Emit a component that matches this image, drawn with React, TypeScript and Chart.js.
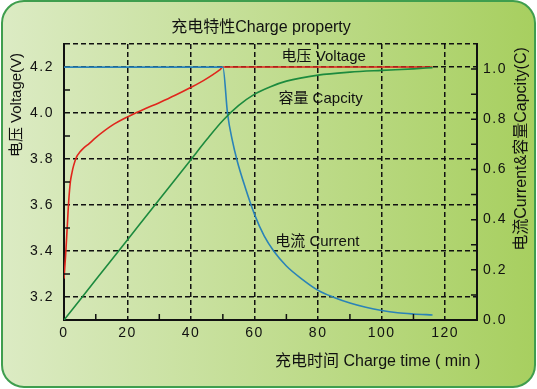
import React, { useEffect, useRef } from "react";
import { Chart, registerables } from "chart.js";

Chart.register(...registerables);

// ---- data ----
const voltageTime = [0, 0.5, 1, 1.5, 2, 2.5, 3, 4, 5, 6, 8, 10, 15, 20, 25, 30, 35, 40, 44, 47, 49, 50, 116];
const voltageValues = [3.28, 3.38, 3.5, 3.62, 3.7, 3.74, 3.77, 3.81, 3.83, 3.845, 3.868, 3.893, 3.945, 3.983, 4.015, 4.045, 4.077, 4.112, 4.142, 4.168, 4.187, 4.2, 4.2];

const currentTime = [0, 50, 51.5, 53, 54.5, 57, 60, 63, 66, 70, 75, 80, 85, 90, 95, 100, 105, 110, 116];
const currentValues = [1.008, 1.008, 0.82, 0.715, 0.635, 0.53, 0.42, 0.335, 0.275, 0.215, 0.162, 0.118, 0.09, 0.068, 0.051, 0.038, 0.029, 0.024, 0.02];

const capacityTime = [0, 10, 20, 30, 40, 45, 50, 55, 60, 65, 70, 80, 90, 100, 110, 116];
const capacityValues = [0, 0.16, 0.32, 0.48, 0.64, 0.72, 0.795, 0.855, 0.9, 0.93, 0.952, 0.976, 0.988, 0.995, 1.001, 1.006];

const xTickLabels = ["0", "20", "40", "60", "80", "100", "120"];
const leftTickLabels = ["3.2", "3.4", "3.6", "3.8", "4.0", "4.2"];
const rightTickLabels = ["0.0", "0.2", "0.4", "0.6", "0.8", "1.0"];

const chartTitle = "充电特性Charge property";
const xTitle = "充电时间 Charge time ( min )";
const yTitle = "电压 Voltage(V)";
const y1Title = "电流Current&容量Capcity(C)";

// annotation labels: text, x (min), y (V on left axis)
const annotationTexts = ["电压 Voltage", "容量 Capcity", "电流 Current"];
const annotationX = [68.5, 67.5, 66.5];
const annotationY = [4.243, 4.061, 3.439];

const FONT = "'Liberation Sans', 'Noto Sans CJK SC', Arial, sans-serif";

const toPoints = (xs: number[], ys: number[]) => xs.map((x, i) => ({ x, y: ys[i] }));

const fmt1 = (v: number) => (Math.round(v * 10) / 10).toFixed(1);

const backgroundPlugin = {
  id: "bgPanel",
  beforeDraw(chart: any) {
    const { ctx, width, height } = chart;
    ctx.save();
    ctx.fillStyle = "#ffffff";
    ctx.fillRect(0, 0, width, height);
    const g = ctx.createLinearGradient(0, 0, width, 0);
    g.addColorStop(0, "#dcebc4");
    g.addColorStop(1, "#a7cf5f");
    const x = 2, y = 1, w = width - 4, h = height - 3, r = 22;
    ctx.beginPath();
    ctx.moveTo(x + r, y);
    ctx.lineTo(x + w - r, y);
    ctx.arcTo(x + w, y, x + w, y + r, r);
    ctx.lineTo(x + w, y + h - r);
    ctx.arcTo(x + w, y + h, x + w - r, y + h, r);
    ctx.lineTo(x + r, y + h);
    ctx.arcTo(x, y + h, x, y + h - r, r);
    ctx.lineTo(x, y + r);
    ctx.arcTo(x, y, x + r, y, r);
    ctx.closePath();
    ctx.fillStyle = g;
    ctx.fill();
    ctx.lineWidth = 2;
    ctx.strokeStyle = "#3f9e4e";
    ctx.stroke();
    ctx.restore();
    (ctx as any).letterSpacing = "1.5px";
  },
};

const decorPlugin = {
  id: "decor",
  afterDraw(chart: any) {
    const { ctx, chartArea } = chart;
    const xs = chart.scales.x;
    const ys = chart.scales.y;
    const y1s = chart.scales.y1;
    (ctx as any).letterSpacing = "0px";
    ctx.save();
    // inward tick marks
    ctx.strokeStyle = "#111";
    ctx.lineWidth = 1.5;
    ctx.beginPath();
    for (let n = 33; n <= 41; n += 2) {
      const py = ys.getPixelForValue(n / 10);
      ctx.moveTo(chartArea.left, py);
      ctx.lineTo(chartArea.left + 6, py);
    }
    for (let v = 10; v <= 110; v += 20) {
      const px = xs.getPixelForValue(v);
      ctx.moveTo(px, chartArea.bottom);
      ctx.lineTo(px, chartArea.bottom - 6);
    }
    for (let n = 1; n <= 10; n++) {
      const py = y1s.getPixelForValue(n / 10);
      ctx.moveTo(chartArea.right, py);
      ctx.lineTo(chartArea.right - 6, py);
    }
    ctx.stroke();

    // annotations
    ctx.fillStyle = "#111";
    ctx.font = `15px ${FONT}`;
    ctx.textAlign = "left";
    ctx.textBaseline = "middle";
    annotationTexts.forEach((t, i) => {
      ctx.fillText(t, xs.getPixelForValue(annotationX[i]), ys.getPixelForValue(annotationY[i]));
    });

    // titles
    ctx.font = `16px ${FONT}`;
    ctx.textAlign = "center";
    ctx.fillText(chartTitle, 261, 28);
    ctx.textAlign = "left";
    ctx.fillText(xTitle, 275, 362);
    ctx.save();
    ctx.translate(17, 105);
    ctx.rotate(-Math.PI / 2);
    ctx.textAlign = "center";
    ctx.font = `15px ${FONT}`;
    ctx.fillText(yTitle, 0, 0);
    ctx.restore();
    ctx.save();
    ctx.translate(522, 149);
    ctx.rotate(-Math.PI / 2);
    ctx.textAlign = "center";
    ctx.font = `16px ${FONT}`;
    ctx.fillText(y1Title, 0, 0);
    ctx.restore();
    ctx.restore();
  },
};

export default function App() {
  const canvasRef = useRef<HTMLCanvasElement | null>(null);

  useEffect(() => {
    document.body.style.margin = "0";
    const canvas = canvasRef.current;
    if (!canvas) return;
    Chart.defaults.font.family = FONT;

    const gridDash = [5, 3];
    const chart = new Chart(canvas, {
      type: "line",
      data: {
        datasets: [
          {
            label: "Capacity",
            data: toPoints(capacityTime, capacityValues),
            yAxisID: "y1",
            borderColor: "#1c8a3e",
            borderWidth: 1.6,
            pointRadius: 0,
            cubicInterpolationMode: "monotone",
            fill: false,
          },
          {
            label: "Current",
            data: toPoints(currentTime, currentValues),
            yAxisID: "y1",
            borderColor: "#2a83b8",
            borderWidth: 1.6,
            pointRadius: 0,
            cubicInterpolationMode: "monotone",
            fill: false,
          },
          {
            label: "Voltage",
            data: toPoints(voltageTime, voltageValues),
            yAxisID: "y",
            borderColor: "#e0261c",
            borderWidth: 1.6,
            pointRadius: 0,
            cubicInterpolationMode: "monotone",
            fill: false,
          },
        ],
      },
      options: {
        responsive: false,
        animation: false,
        layout: { padding: { top: 44, left: 0, right: 0, bottom: 0 } },
        plugins: {
          legend: { display: false },
          title: { display: false },
          tooltip: { enabled: false },
        },
        scales: {
          x: {
            type: "linear",
            min: 0,
            max: 130,
            afterFit: (s: any) => { s.height = 69; },
            ticks: {
              stepSize: 10,
              autoSkip: false,
              maxRotation: 0,
              padding: 5,
              color: "#111",
              font: { size: 14 },
              callback: (v: any) => {
                const n = Math.round(Number(v));
                const idx = xTickLabels.indexOf(String(n));
                return n % 20 === 0 && idx >= 0 ? xTickLabels[idx] : "";
              },
            },
            grid: {
              drawTicks: false,
              lineWidth: 1.5,
              color: (c: any) => {
                const n = Math.round(c.tick?.value ?? -1);
                return n % 20 === 0 && n >= 20 && n <= 120 ? "#111" : "rgba(0,0,0,0)";
              },
            },
            border: { display: true, color: "#111", width: 2, dash: gridDash },
          },
          y: {
            type: "linear",
            position: "left",
            min: 3.1,
            max: 4.3,
            afterFit: (s: any) => { s.width = 64; },
            ticks: {
              stepSize: 0.1,
              autoSkip: false,
              padding: 10,
              color: "#111",
              font: { size: 14 },
              callback: (v: any) => {
                const s = fmt1(Number(v));
                return leftTickLabels.includes(s) ? s : "";
              },
            },
            grid: {
              drawTicks: false,
              lineWidth: 1.5,
              color: (c: any) => {
                const s = fmt1(c.tick?.value ?? 0);
                return leftTickLabels.includes(s) || s === "4.3" ? "#111" : "rgba(0,0,0,0)";
              },
            },
            border: { display: true, color: "#111", width: 2, dash: gridDash },
          },
          y1: {
            type: "linear",
            position: "right",
            min: 0,
            max: 1.1,
            afterFit: (s: any) => { s.width = 60; },
            ticks: {
              stepSize: 0.1,
              autoSkip: false,
              padding: 6,
              color: "#111",
              font: { size: 14 },
              callback: (v: any) => {
                const s = fmt1(Number(v));
                return rightTickLabels.includes(s) ? s : "";
              },
            },
            grid: { drawOnChartArea: false, drawTicks: false },
            border: { display: true, color: "#111", width: 2 },
          },
        },
      },
      plugins: [backgroundPlugin, decorPlugin],
    } as any);

    return () => chart.destroy();
  }, []);

  return (
    <canvas
      ref={canvasRef}
      width={537}
      height={389}
      style={{ display: "block", width: 537, height: 389 }}
    />
  );
}
